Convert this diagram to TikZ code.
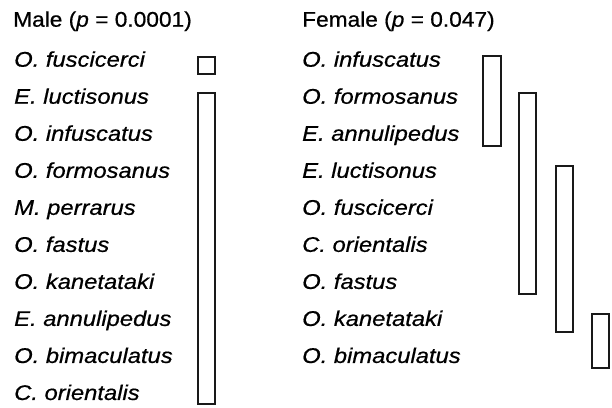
\documentclass[tikz,border=0pt]{standalone}
\usepackage{fontspec}
\setmainfont{Liberation Sans}
\newfontfamily\hdfont[FakeStretch=1.07,FakeBold=0.6]{Liberation Sans}
\newfontfamily\spfont[FakeStretch=1.12,FakeBold=0.6]{Liberation Sans}
\begin{document}
\begin{tikzpicture}[x=1bp,y=-1bp,
  hd/.style={anchor=base west,inner sep=0pt,font=\hdfont\fontsize{21.3}{24}\selectfont},
  sp/.style={anchor=base west,inner sep=0pt,font=\spfont\fontsize{21.3}{24}\itshape\selectfont},
  bar/.style={draw=black!90,line width=2bp}]
\useasboundingbox (0,0) rectangle (612,407);
% headers
\node[hd] (mh) at (13,26.7) {Male (\textit{p} = 0.0001)};
\node[hd] (fh) at (302,26.7) {Female (\textit{p} = 0.047)};
% male species
\foreach \n [count=\i from 0] in {O. fuscicerci,E. luctisonus,O. infuscatus,O. formosanus,M. perrarus,O. fastus,O. kanetataki,E. annulipedus,O. bimaculatus,C. orientalis}
  \node[sp] (m\i) at (14,66.7+37.03*\i) {\n};
% female species
\foreach \n [count=\i from 0] in {O. infuscatus,O. formosanus,E. annulipedus,E. luctisonus,O. fuscicerci,C. orientalis,O. fastus,O. kanetataki,O. bimaculatus}
  \node[sp] (f\i) at (302,66.7+37.03*\i) {\n};
% male bars
\draw[bar] (198,57) rectangle (215,74);
\draw[bar] (198,93) rectangle (215,404);
% female bars
\draw[bar] (483,56) rectangle (500.5,146);
\draw[bar] (519,93) rectangle (536,294);
\draw[bar] (556,166) rectangle (573,332);
\draw[bar] (592,314) rectangle (609,368);
\end{tikzpicture}
\end{document}
